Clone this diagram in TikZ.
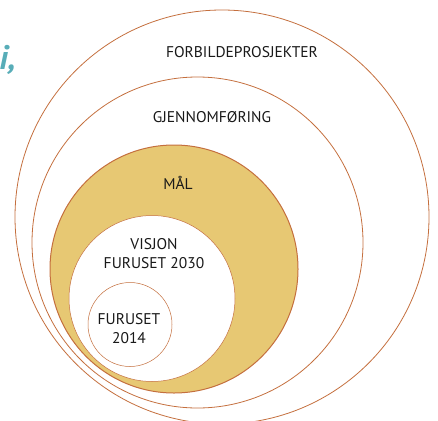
\documentclass[tikz,border=0pt]{standalone}
\usepackage{fontspec}
\setmainfont{PT Sans}
\usepackage{xcolor}
\definecolor{ringline}{HTML}{C46F3E}
\definecolor{goalfill}{HTML}{E7C873}
\definecolor{titleteal}{HTML}{58ADB8}
\tikzset{
    ring/.style = {draw=ringline, circle, inner sep=0pt, outer sep=0pt, line width=0.8pt},
    thin-ring/.style = {ring, line width=0.5pt, fill=white},
    ring-label/.style = {font=\fontsize{15.5}{18}\selectfont, align=center, text=black!90, inner sep=0pt},
}

\begin{document}
\begin{tikzpicture}[x=1pt, y=-1pt]
\useasboundingbox (0,0) rectangle (438,420);
\node [ring, minimum size=414pt] (forbilde) at (222,217) {};
\node [ring, minimum size=331pt] (gjennom) at (197.5,242.5) {};
\node [ring, fill=goalfill, line width=1pt, minimum size=248pt] (maal) at (174,269) {};
\node [thin-ring, minimum size=166pt] (visjon) at (152,298.5) {};
\node [thin-ring, minimum size=84pt] (furuset) at (130,324.5) {};
\node [ring-label] (forbilde-text) at (242,52) {FORBILDEPROSJEKTER};
\node [ring-label] (gjennom-text) at (212,117) {GJENNOMFØRING};
\node [ring-label] (maal-text) at (178,183) {MÅL};
\node [ring-label, text depth=0pt] (visjon-text) at (154,253) {VISJON\\[1pt]FURUSET 2030};
\node [ring-label] (furuset-text) at (129,329) {FURUSET\\[1pt]2014};
\node [anchor=base east, text=titleteal, font=\fontsize{34}{40}\selectfont\bfseries\itshape, inner sep=0pt] (title-tail) at (16,69) {i,};
\end{tikzpicture}
\end{document}
